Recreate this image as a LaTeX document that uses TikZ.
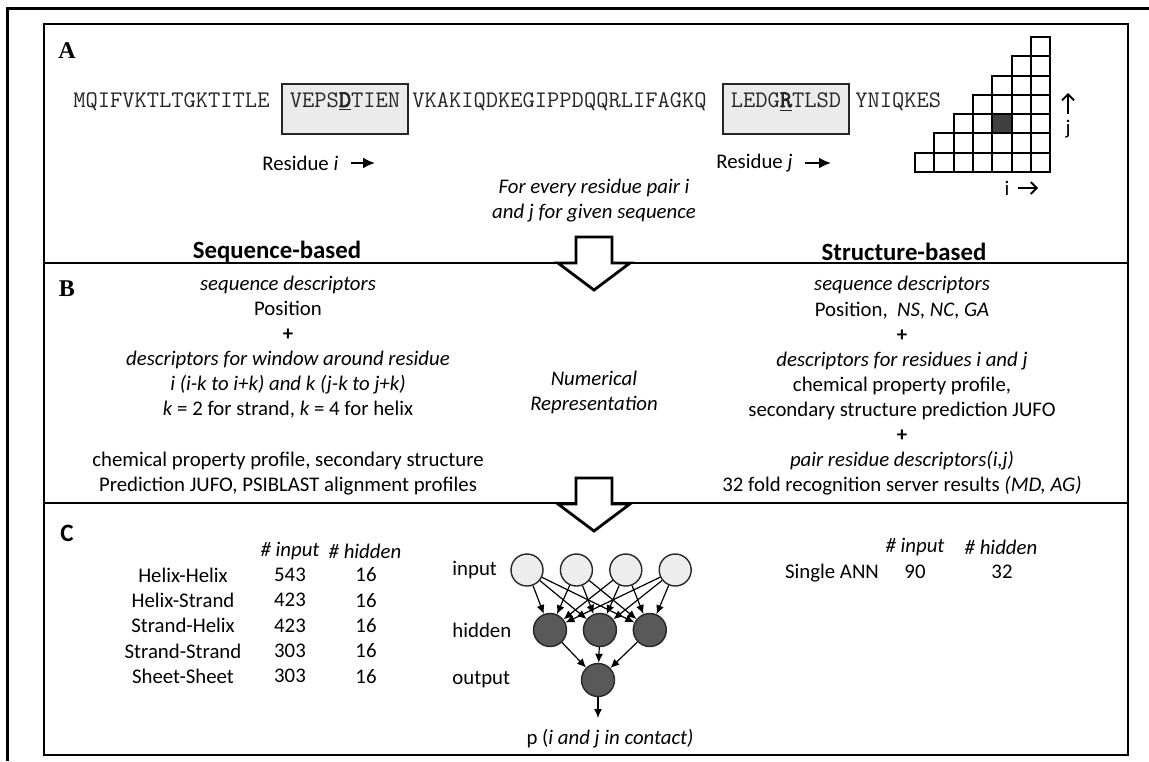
\documentclass[tikz,border=0pt]{standalone}
\usepackage{fontspec}
\setmainfont{Carlito}
\newfontfamily\seqfont{Latin Modern Mono}[BoldFont={Latin Modern Mono}, BoldFeatures={FakeBold=3}]
\newfontfamily\panelfont{Liberation Serif}
\usetikzlibrary{positioning,arrows.meta}

\newcommand\normsz{\fontsize{10.4}{12.5}\selectfont}

\tikzset{
    txt/.style={font=\normsz, inner sep=0pt},
    itx/.style={font=\normsz\itshape, inner sep=0pt},
    head/.style={font=\fontsize{12.4}{14}\selectfont\bfseries, inner sep=0pt},
    panel/.style={font=\panelfont\fontsize{12}{14}\selectfont\bfseries, inner sep=0pt},
    seq/.style={font=\seqfont\fontsize{11.9}{13}\selectfont, text=black!85, inner sep=0pt, anchor=base west},
    seqbox/.style={seq, draw=black!85, fill=black!8, line width=0.8pt, inner xsep=4pt, inner ysep=0pt, text height=11.5pt, text depth=13.5pt},
    cell/.style={draw, line width=1pt},
    bigarrow/.style={draw, fill=white, line width=1.4pt, line join=miter},
    resarrow/.style={-{Latex[length=6pt,width=5.5pt]}, line width=1.1pt},
    axarrow/.style={-{Straight Barb[length=3pt,width=6pt]}, line width=0.9pt},
    inp/.style={circle, draw=black!85, fill=black!7, line width=0.7pt, minimum size=16pt, inner sep=0pt},
    hid/.style={circle, draw=black!85, fill=black!65, line width=0.7pt, minimum size=16.5pt, inner sep=0pt},
    link/.style={-{Latex[length=4.5pt,width=4pt]}, line width=0.6pt},
}

\begin{document}
\begin{tikzpicture}[x=0.5pt, y=-0.5pt]
        \useasboundingbox (0,0) rectangle (1149,761);
        \draw[line width=1.5pt] (1149,8) -- (7,8) -- (7,761);
        \draw[line width=1pt] (44,24) rectangle (1128,755);
        \draw[line width=1pt] (44,263) -- (1128,263);
        \draw[line width=1pt] (44,503) -- (1128,503);

        \node[panel] (pa) at (67,51) {A};
        \node[panel] (pb) at (67,289) {B};
        \node[font=\fontsize{12.5}{14}\selectfont\bfseries, inner sep=0pt] (pc) at (67,533) {C};

        \node[seq] (s1) at (73,107) {MQIFVKTLTGKTITLE};
        \node[seqbox] (bi) at (281,107) {VEPS\underline{\textbf{D}}TIEN};
        \node[seq] (s2) at (412,107) {VKAKIQDKEGIPPDQQRLIFAGKQ};
        \node[seqbox] (bj) at (722,107) {LEDG\underline{\textbf{R}}TLSD};
        \node[seq] (s3) at (855,107) {YNIQKES};

        \node[txt, anchor=west] (ri) at (262,163) {Residue \textit{i}};
        \coordinate (ria) at (375,163);
        \draw[resarrow] ([xshift=6pt]ri.east) -- (ria);
        \node[txt, anchor=west] (rj) at (716,163) {Residue \textit{j}};
        \coordinate (rja) at (831,163);
        \draw[resarrow] ([xshift=6pt]rj.east) -- (rja);

        \fill[black!75] (992.2,133.4) rectangle ++(19.3,-19.3);
        \foreach \c in {0,...,6}
            \foreach \r in {0,...,\c}
                \draw[cell] ({915+19.3*\c},{172-19.3*\r}) rectangle ++(19.3,-19.3);
        \node[txt] (jl) at (1068,129) {j};
        \coordinate (jt) at (1068,93);
        \draw[axarrow] ([yshift=3pt]jl.north) -- (jt);
        \node[txt] (il) at (1007,188) {i};
        \coordinate (it) at (1038,188);
        \draw[axarrow] ([xshift=4pt]il.east) -- (it);

        \node[itx, align=center] (every) at (594,201) {For every residue pair i\\and j for given sequence};
        \node[head] (seqb) at (277,252) {Sequence-based};
        \node[head] (strb) at (904,252) {Structure-based};

        \foreach \dy in {237,478}
            \draw[bigarrow, shift={(0,\dy)}] (576,0) -- (612,0) -- (612,26) -- (630,26) -- (594,53) -- (558,26) -- (576,26) -- cycle;

        \node[txt, align=center] (ldesc) at (288,347) {\textit{sequence descriptors}\\Position\\\textbf{+}\\\textit{descriptors for window around residue}\\\textit{i (i-k to i+k) and k (j-k to j+k)}\\\textit{k} = 2 for strand, \textit{k} = 4 for helix};
        \node[txt, align=center] (lprof) at (288,474) {chemical property profile, secondary structure\\Prediction JUFO, PSIBLAST alignment profiles};
        \node[itx, align=center] (numrep) at (594,392) {Numerical\\Representation};
        \node[txt, align=center, font=\fontsize{10.4}{12.56}\selectfont] (rdesc) at (902,386) {\textit{sequence descriptors}\\Position,\ \ \textit{NS}, \textit{NC}, \textit{GA}\\\textbf{+}\\\textit{descriptors for residues i and j}\\chemical property profile,\\secondary structure prediction JUFO\\\textbf{+}\\\textit{pair residue descriptors(i,j)}\\32 fold recognition server results \textit{(MD, AG)}};

        \node[itx] (hin) at (290,551) {\# input};
        \node[itx] (hhid) at (365,551) {\# hidden};
        \foreach \nm/\ni/\nh [count=\k from 0] in {Helix-Helix/543/16, Helix-Strand/423/16, Strand-Helix/423/16, Strand-Strand/303/16, Sheet-Sheet/303/16} {
            \node[txt] (nm\k) at (183,{575+25.3*\k}) {\nm};
            \node[txt] (ni\k) at (290,{575+25.3*\k}) {\ni};
            \node[txt] (nh\k) at (366,{575+25.3*\k}) {\nh};
        }

        \node[txt, anchor=west] (lin) at (452,570) {input};
        \node[txt, anchor=west] (lhid) at (452,630) {hidden};
        \node[txt, anchor=west] (lout) at (452,680) {output};
        \node[inp] (i1) at (527,570) {};
        \node[inp, right=8pt of i1] (i2) {};
        \node[inp, right=8pt of i2] (i3) {};
        \node[inp, right=8pt of i3] (i4) {};
        \node[hid] (h1) at (550,630) {};
        \node[hid, right=7.75pt of h1] (h2) {};
        \node[hid, right=7.75pt of h2] (h3) {};
        \node[hid] (o) at (598,680) {};
        \foreach \a in {1,...,4}
            \foreach \b in {1,2,3}
                \draw[link] (i\a) -- (h\b);
        \foreach \b in {1,2,3}
            \draw[link] (h\b) -- (o);
        \coordinate (pout) at (598,718);
        \draw[link] (o) -- (pout);
        \node[txt] (pij) at (610,739) {p (\textit{i and j in contact)}};

        \node[itx] (rin) at (915,547) {\# input};
        \node[itx] (rhid) at (1001,547) {\# hidden};
        \node[txt] (ann) at (832,573) {Single ANN};
        \node[txt] (ann1) at (915,572) {90};
        \node[txt] (ann2) at (1002,572) {32};
\end{tikzpicture}
\end{document}
